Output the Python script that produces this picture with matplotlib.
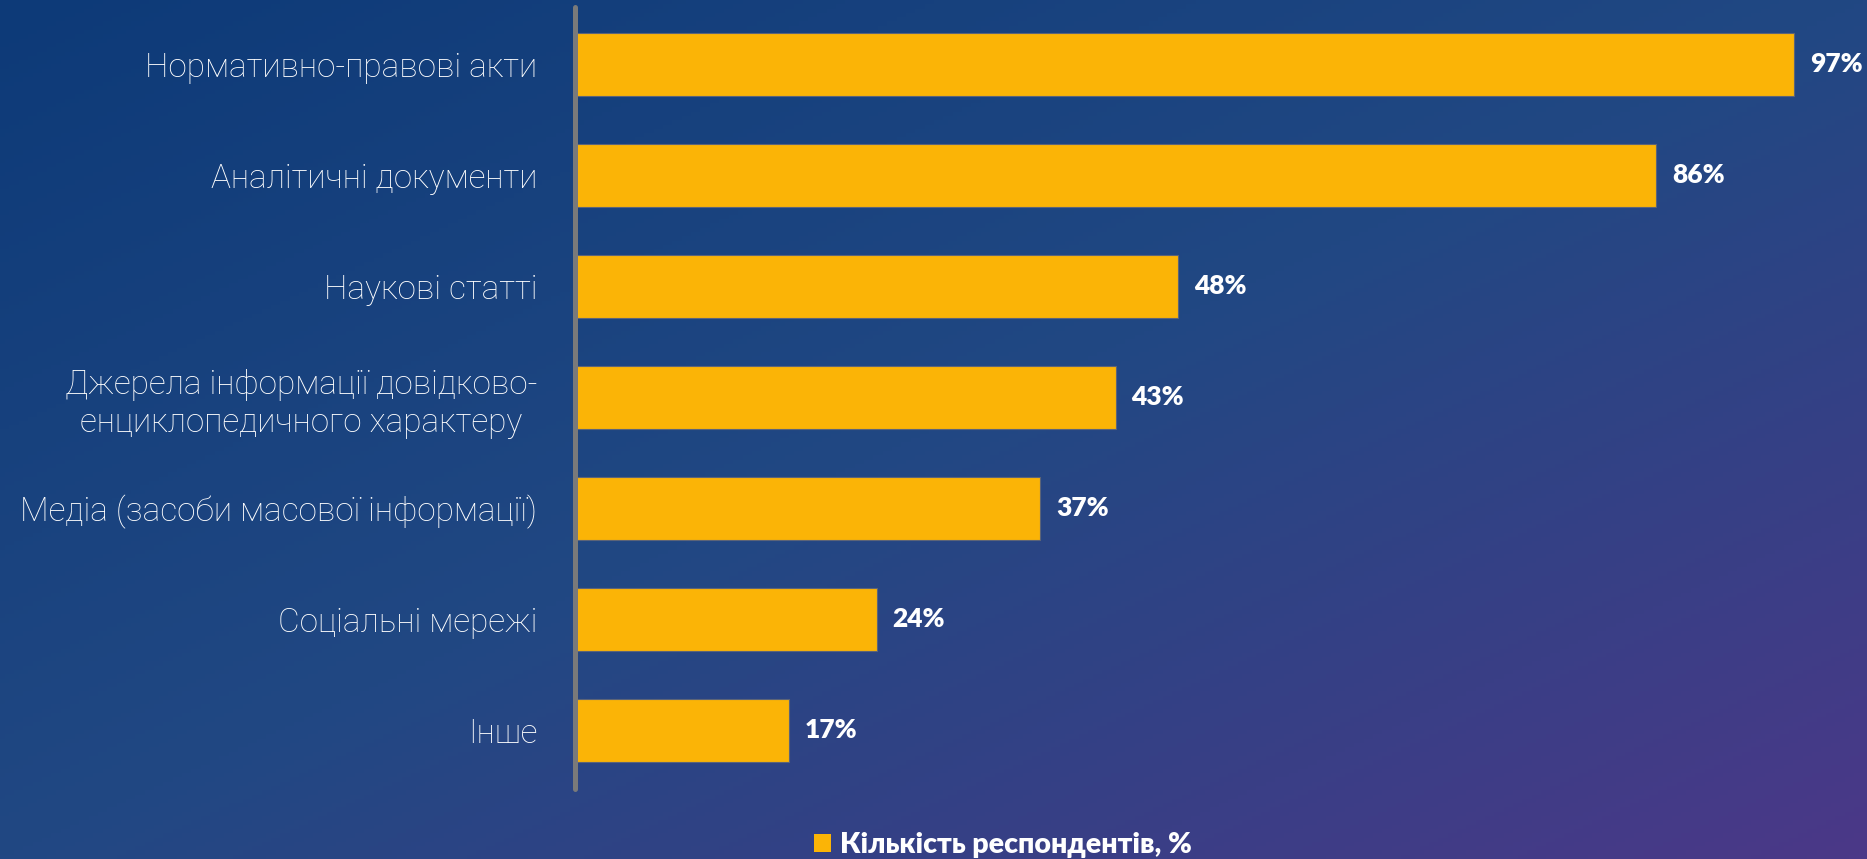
import matplotlib.pyplot as plt
import numpy as np
from matplotlib.colors import LinearSegmentedColormap

# --- data ---
categories = [
    "Нормативно-правові акти",
    "Аналітичні документи",
    "Наукові статті",
    "Джерела інформації довідково-\nенциклопедичного характеру",
    "Медіа (засоби масової інформації)",
    "Соціальні мережі",
    "Інше",
]
values = [97, 86, 48, 43, 37, 24, 17]
series_name = "Кількість респондентів, %"

BAR_COLOR = "#fbb406"
W, H = 1867, 859

fig = plt.figure(figsize=(W / 100, H / 100), dpi=100)

# diagonal background gradient, dark blue -> purple
bg = fig.add_axes([0, 0, 1, 1], zorder=-10)
gx, gy = np.meshgrid(np.linspace(0, 1, 400), np.linspace(0, 1, 200))
t = (gx + gy) / 2
cmap = LinearSegmentedColormap.from_list(
    "bg", [(0, "#0d3a78"), (0.5, "#214883"), (1, "#4b3888")]
)
bg.imshow(t, cmap=cmap, aspect="auto", extent=[0, 1, 1, 0], vmin=0, vmax=1)
bg.axis("off")

ax = fig.add_axes([575 / W, 1 - 789 / H, 1257 / W, 782 / H])
ax.patch.set_alpha(0)

y = np.arange(len(categories))
bars = ax.barh(y, values, height=0.57, color=BAR_COLOR, edgecolor="#5c6478",
               linewidth=0.8, label=series_name)
ax.set_xlim(0, 100)
ax.set_ylim(len(categories) - 1 + 0.53, -0.516)

ax.set_yticks(y)
ax.set_yticklabels(categories, family="Roboto", weight="light", fontsize=24,
                   color="white", multialignment="center", linespacing=1.25)
ax.tick_params(axis="y", length=0, pad=27)
ax.set_xticks([])

for s in ["top", "right", "bottom"]:
    ax.spines[s].set_visible(False)
ax.spines["left"].set_color("#7a7a7a")
ax.spines["left"].set_linewidth(3.6)
ax.spines["left"].set_capstyle("round")
ax.spines["left"].set_zorder(5)

for b, v in zip(bars, values):
    ax.annotate(f"{v}%", (b.get_width(), b.get_y() + b.get_height() / 2),
                xytext=(11.5, 0), textcoords="offset points", va="center",
                ha="left", family="Lato", weight="heavy", fontsize=19,
                color="white")

leg = fig.legend(loc="center", bbox_to_anchor=(1003 / W, 1 - 845 / H),
                 frameon=False, handlelength=0.6, handleheight=0.6,
                 handletextpad=0.32, borderaxespad=0, borderpad=0,
                 prop={"family": "Lato", "weight": "heavy", "size": 20.5})
for txt in leg.get_texts():
    txt.set_color("white")
leg.legend_handles[0].set_edgecolor("none")

fig.savefig("out.png", dpi=100)
